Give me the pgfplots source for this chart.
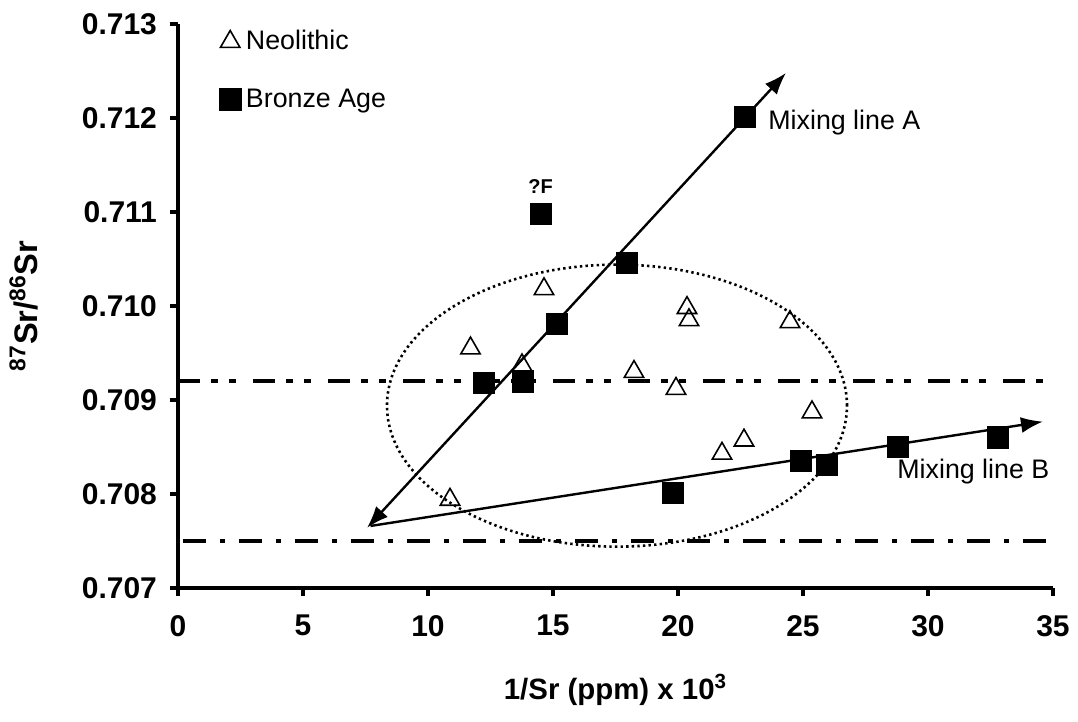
\documentclass[border=0pt]{standalone}
\usepackage{fontspec}
\setmainfont{Liberation Sans}
\usepackage{pgfplots}
\pgfplotsset{compat=1.18}
\usetikzlibrary{arrows.meta,calc}

\begin{document}
\begin{tikzpicture}
\begin{axis}[
  name=ax,
  scale only axis,
  width=437.5pt, height=282pt,
  xmin=0, xmax=35, ymin=0.707, ymax=0.713,
  xtick={0,5,...,35},
  ytick={0.707,0.708,0.709,0.710,0.711,0.712,0.713},
  scaled y ticks=false,
  yticklabel style={/pgf/number format/fixed,/pgf/number format/precision=3,/pgf/number format/fixed zerofill, xshift=-3pt},
  /pgf/number format/assume math mode=true,
  axis x line*=bottom, axis y line*=left,
  axis line style={line width=2pt},
  tick align=outside,
  major tick length=4pt,
  tick style={line width=1.6pt, black},
  tick label style={font=\bfseries\fontsize{15}{15}\selectfont},
  xticklabel style={yshift=-6pt},
  xlabel={1/Sr (ppm) x 10\textsuperscript{3}},
  ylabel={\textsuperscript{87}Sr/\textsuperscript{86}Sr},
  xlabel style={font=\bfseries\fontsize{14.7}{14.7}\selectfont, at={(axis description cs:0.5,-0.181)}, anchor=center},
  ylabel style={font=\bfseries\fontsize{16.3}{16.3}\selectfont, at={(axis description cs:-0.176,0.5)}, anchor=center},
  clip=false,
  legend style={at={(axis cs:1.4,0.71302)}, anchor=north west, draw=none, fill=none,
    font=\fontsize{13.4}{13.4}\selectfont, row sep=14pt,
    nodes={inner xsep=2.5pt}},
  legend cell align=left,
  legend image code/.code={\draw[#1] plot coordinates {(4pt,0pt)};},
]
% reference levels
\addplot[black, line width=2pt, dash pattern=on 11pt off 5.5pt on 3.5pt off 5.5pt on 3.5pt off 8.5pt, forget plot]
  coordinates {(0,0.7092) (35,0.7092)};
\addplot[black, line width=1.6pt, dash pattern=on 11.5pt off 7pt on 2.5pt off 7pt, forget plot]
  coordinates {(0.2,0.7075) (34.7,0.7075)};
% mixing lines
\addplot[black, line width=1.2pt, {Latex[length=11pt,width=8pt]}-{Latex[length=11pt,width=8pt]}, forget plot]
  coordinates {(7.56,0.70764) (24.32,0.71248)};
\addplot[black, line width=1.2pt, -{Latex[length=11pt,width=8pt]}, forget plot]
  coordinates {(7.7,0.70766) (34.6,0.70877)};
% ellipse
\draw[black, line width=1.3pt, dash pattern=on 1.2pt off 1.6pt] (axis cs:17.56,0.70894) ellipse [x radius=9.2, y radius=0.0015];
% Neolithic
\addplot[only marks, mark=triangle, mark size=5.6pt, mark options={black, line width=0.8pt, fill=none}]
  coordinates {
    (11.7,0.70955) (14.64,0.71018) (13.76,0.70937) (18.24,0.70930)
    (20.36,0.70998) (20.44,0.70985) (24.48,0.70983) (19.92,0.70912)
    (25.36,0.70887) (22.64,0.70857) (21.76,0.70843) (10.88,0.70794)
  };
\addlegendentry{Neolithic}
% Bronze Age
\addplot[only marks, mark=square*, mark size=5.4pt, mark options={black, fill=black}]
  coordinates {
    (22.68,0.71201) (14.52,0.71098) (17.96,0.71046) (15.16,0.70981)
    (12.24,0.70918) (13.8,0.70920) (19.8,0.70801) (24.92,0.70835)
    (25.96,0.70831) (28.8,0.70850) (32.8,0.70860)
  };
\addlegendentry{Bronze Age}
\node[anchor=west, font=\fontsize{13.4}{13.4}\selectfont, inner sep=0pt] at (axis cs:23.6,0.71195) {Mixing line A};
\node[anchor=west, font=\fontsize{13.4}{13.4}\selectfont, inner sep=0pt] at (axis cs:28.76,0.70824) {Mixing line B};
\node[font=\bfseries\fontsize{10}{10}\selectfont] at (axis cs:14.5,0.71127) {?F};
\end{axis}
\path (ax.south west) ++(-89pt,-67pt) rectangle ($(ax.north east)+(12.5pt,12pt)$);
\end{tikzpicture}
\end{document}
